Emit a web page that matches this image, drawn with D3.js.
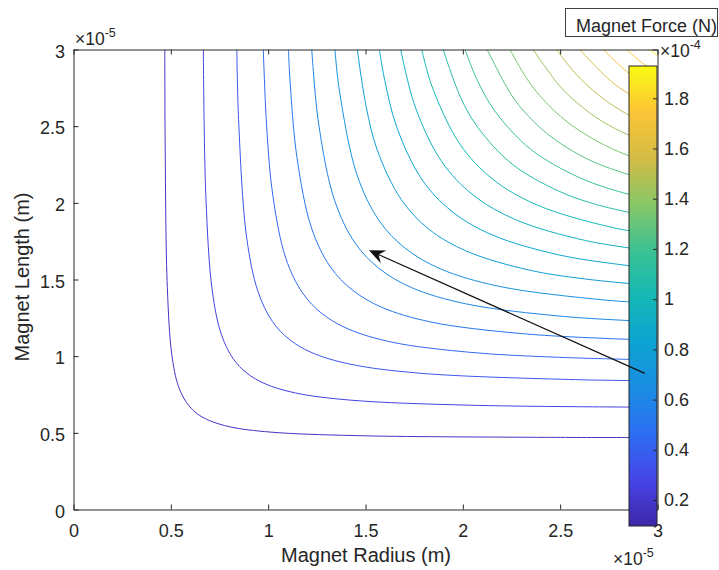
<!DOCTYPE html>
<html>
<head>
<meta charset="utf-8">
<script src="https://cdn.jsdelivr.net/npm/d3@7"></script>
<style>
  html, body { margin: 0; padding: 0; background: #fff; }
  svg { display: block; font-family: "Liberation Sans", Arial, Helvetica, sans-serif; }
</style>
</head>
<body>
<svg id="chart" width="719" height="570"></svg>
<script>
// axis ticks (values are in units of 1e-5 m)
const xTicks = [0, 0.5, 1, 1.5, 2, 2.5, 3];
const xTickLabels = ['0', '0.5', '1', '1.5', '2', '2.5', '3'];
const yTicks = [0, 0.5, 1, 1.5, 2, 2.5, 3];
const yTickLabels = ['0', '0.5', '1', '1.5', '2', '2.5', '3'];

// colorbar (values in units of 1e-4 N)
const forceRange = [0.0965, 1.9286];
const cbTicks = [0.2, 0.4, 0.6, 0.8, 1, 1.2, 1.4, 1.6, 1.8];
const cbTickLabels = ['0.2', '0.4', '0.6', '0.8', '1', '1.2', '1.4', '1.6', '1.8'];

const levels = [0.18, 0.26, 0.35, 0.43, 0.51, 0.60, 0.68, 0.76, 0.85, 0.93, 1.01,
                1.10, 1.18, 1.26, 1.35, 1.43, 1.51, 1.60, 1.68, 1.76, 1.85];

// contour lines, [radius, length] points
const contourLines = [
  [[0.469,3],[0.471,2.356],[0.482,1.446],[0.505,1.010],[0.538,0.808],[0.581,0.697],[0.630,0.630],[0.697,0.581],[0.808,0.538],[1.010,0.505],[1.446,0.482],[2.356,0.471],[3,0.469]],
  [[0.667,3],[0.680,2.041],[0.713,1.426],[0.760,1.140],[0.820,0.984],[0.890,0.890],[0.984,0.820],[1.140,0.760],[1.426,0.713],[2.041,0.680],[3,0.667]],
  [[0.839,3],[0.848,2.544],[0.889,1.778],[0.948,1.421],[1.022,1.226],[1.109,1.109],[1.226,1.022],[1.421,0.948],[1.778,0.889],[2.544,0.848],[3,0.839]],
  [[0.975,3],[0.993,2.482],[1.024,2.047],[1.091,1.637],[1.177,1.412],[1.277,1.277],[1.412,1.177],[1.637,1.091],[2.047,1.024],[2.482,0.993],[3,0.975]],
  [[1.104,3],[1.113,2.783],[1.148,2.295],[1.223,1.835],[1.319,1.583],[1.432,1.432],[1.583,1.319],[1.835,1.223],[2.295,1.148],[2.783,1.113],[3,1.104]],
  [[1.224,3],[1.259,2.518],[1.342,2.013],[1.447,1.737],[1.571,1.571],[1.737,1.447],[2.013,1.342],[2.518,1.259],[3,1.224]],
  [[1.343,3],[1.366,2.731],[1.456,2.184],[1.570,1.884],[1.704,1.704],[1.884,1.570],[2.184,1.456],[2.731,1.366],[3,1.343]],
  [[1.458,3],[1.503,2.630],[1.561,2.342],[1.684,2.021],[1.827,1.827],[2.021,1.684],[2.342,1.561],[2.630,1.503],[3,1.458]],
  [[1.571,3],[1.599,2.798],[1.661,2.492],[1.791,2.150],[1.944,1.944],[2.150,1.791],[2.492,1.661],[2.798,1.599],[3,1.571]],
  [[1.681,3],[1.754,2.631],[1.891,2.270],[2.052,2.052],[2.270,1.891],[2.631,1.754],[3,1.681]],
  [[1.789,3],[1.841,2.762],[1.985,2.383],[2.154,2.154],[2.383,1.985],[2.762,1.841],[3,1.789]],
  [[1.899,3],[1.989,2.686],[2.077,2.492],[2.253,2.253],[2.492,2.077],[2.686,1.989],[3,1.899]],
  [[2.011,3],[2.074,2.800],[2.165,2.598],[2.349,2.349],[2.598,2.165],[2.800,2.074],[3,2.011]],
  [[2.125,3],[2.251,2.701],[2.335,2.568],[2.442,2.442],[2.568,2.335],[2.701,2.251],[3,2.125]],
  [[2.242,3],[2.334,2.800],[2.421,2.663],[2.532,2.532],[2.663,2.421],[2.800,2.334],[3,2.242]],
  [[2.361,3],[2.503,2.754],[2.619,2.619],[2.754,2.503],[3,2.361]],
  [[2.481,3],[2.581,2.840],[2.700,2.700],[2.840,2.581],[3,2.481]],
  [[2.601,3],[2.777,2.777],[3,2.601]],
  [[2.721,3],[2.849,2.849],[3,2.721]],
  [[2.841,3],[2.917,2.917],[3,2.841]],
  [[2.960,3],[2.980,2.980],[3,2.960]]
];

// annotation arrow, data coords
const arrowFrom = [2.935, 0.888];
const arrowTo = [1.518, 1.690];

const ink = '#262626';
const svg = d3.select('#chart');

const plot = {left: 73.5, right: 657.5, top: 49.5, bottom: 509.5};
const x = d3.scaleLinear().domain([0, 3]).range([plot.left, plot.right]);
const y = d3.scaleLinear().domain([0, 3]).range([plot.bottom, plot.top]);

// parula-like colormap
const parulaStops = ['#3e26a8', '#4745e8', '#2c6ef2', '#1a8de2', '#0ca4d2', '#15b8b4',
                     '#3cc293', '#88c666', '#d4bc45', '#fcc436', '#f9fb15'];
const parula = d3.scaleLinear()
  .domain(parulaStops.map((c, i) => i / (parulaStops.length - 1)))
  .range(parulaStops)
  .interpolate(d3.interpolateRgb);
const color = v => parula((v - forceRange[0]) / (forceRange[1] - forceRange[0]));

const defs = svg.append('defs');
defs.append('clipPath').attr('id', 'plotClip')
  .append('rect')
  .attr('x', plot.left).attr('y', plot.top)
  .attr('width', plot.right - plot.left).attr('height', plot.bottom - plot.top);

// contours
const line = d3.line()
  .x(d => x(d[0]))
  .y(d => y(d[1]))
  .curve(d3.curveCatmullRom.alpha(0.5));

svg.append('g')
  .attr('clip-path', 'url(#plotClip)')
  .selectAll('path')
  .data(contourLines)
  .join('path')
  .attr('d', line)
  .attr('fill', 'none')
  .attr('stroke', (d, i) => color(levels[i]))
  .attr('stroke-width', 1);

// axes
function styleAxis(g) {
  g.select('.domain').attr('stroke', ink).attr('stroke-width', 1);
  g.selectAll('.tick line').attr('stroke', ink);
  g.selectAll('.tick text').attr('fill', ink).style('font-size', '18px');
}

svg.append('g')
  .attr('transform', `translate(0,${plot.bottom})`)
  .call(d3.axisBottom(x).tickValues(xTicks).tickFormat((d, i) => xTickLabels[i])
    .tickSizeInner(-5).tickSizeOuter(0).tickPadding(14.5))
  .call(styleAxis);

svg.append('g')
  .attr('transform', `translate(${plot.left},0)`)
  .call(d3.axisLeft(y).tickValues(yTicks).tickFormat((d, i) => yTickLabels[i])
    .tickSizeInner(-5).tickSizeOuter(0).tickPadding(8.5))
  .call(styleAxis)
  .call(g => g.selectAll('.tick text').attr('dy', '0.42em'));

svg.append('g')
  .attr('transform', `translate(0,${plot.top})`)
  .call(d3.axisTop(x).tickValues(xTicks).tickFormat('').tickSizeInner(-5).tickSizeOuter(0))
  .call(styleAxis);

svg.append('g')
  .attr('transform', `translate(${plot.right},0)`)
  .call(d3.axisRight(y).tickValues(yTicks).tickFormat('').tickSizeInner(-5).tickSizeOuter(0))
  .call(styleAxis);

// axis titles
svg.append('text')
  .attr('x', 366).attr('y', 561.5)
  .attr('text-anchor', 'middle')
  .attr('fill', ink).style('font-size', '20px')
  .text('Magnet Radius (m)');

svg.append('text')
  .attr('transform', 'translate(29,277) rotate(-90)')
  .attr('text-anchor', 'middle')
  .attr('fill', ink).style('font-size', '20px')
  .text('Magnet Length (m)');

// exponent labels
function expLabel(px, py, exp) {
  const t = svg.append('text')
    .attr('x', px).attr('y', py)
    .attr('fill', ink).style('font-size', '17.5px');
  t.append('tspan').text('\u00d710');
  t.append('tspan').attr('dy', -8).style('font-size', '12.5px').text(exp);
}
expLabel(75, 45, '-5');
expLabel(613, 565, '-5');

// colorbar
const cb = {left: 629, right: 657, top: 66, bottom: 526};
const cbScale = d3.scaleLinear().domain(forceRange).range([cb.bottom, cb.top]);

const grad = defs.append('linearGradient').attr('id', 'parulaGrad')
  .attr('x1', 0).attr('y1', 1).attr('x2', 0).attr('y2', 0);
grad.selectAll('stop')
  .data(parulaStops)
  .join('stop')
  .attr('offset', (d, i) => i / (parulaStops.length - 1))
  .attr('stop-color', d => d);

svg.append('rect')
  .attr('x', cb.left).attr('y', cb.top)
  .attr('width', cb.right - cb.left).attr('height', cb.bottom - cb.top)
  .attr('fill', 'url(#parulaGrad)')
  .attr('stroke', ink).attr('stroke-width', 1);

svg.append('g')
  .attr('transform', `translate(${cb.right},0)`)
  .call(d3.axisRight(cbScale).tickValues(cbTicks).tickFormat((d, i) => cbTickLabels[i])
    .tickSizeInner(-4).tickSizeOuter(0).tickPadding(7))
  .call(styleAxis)
  .call(g => g.select('.domain').remove());

expLabel(660, 56.5, '-4');

// colorbar title box
svg.append('rect')
  .attr('x', 565.5).attr('y', 8.5)
  .attr('width', 152).attr('height', 28)
  .attr('fill', '#fff')
  .attr('stroke', '#404040').attr('stroke-width', 1);
svg.append('text')
  .attr('x', 576).attr('y', 31.5)
  .attr('fill', ink).style('font-size', '18px')
  .text('Magnet Force (N)');

// arrow annotation
const ax0 = x(arrowFrom[0]), ay0 = y(arrowFrom[1]);
const ax1 = x(arrowTo[0]), ay1 = y(arrowTo[1]);
const len = Math.hypot(ax0 - ax1, ay0 - ay1);
const ux = (ax0 - ax1) / len, uy = (ay0 - ay1) / len;
const nx = -uy, ny = ux;
const headLen = 16, headW = 7;

svg.append('line')
  .attr('x1', ax0).attr('y1', ay0)
  .attr('x2', ax1 + ux * headLen * 0.6).attr('y2', ay1 + uy * headLen * 0.6)
  .attr('stroke', '#111').attr('stroke-width', 1.2);

svg.append('path')
  .attr('d', `M${ax1},${ay1}`
    + `L${ax1 + ux * headLen + nx * headW},${ay1 + uy * headLen + ny * headW}`
    + `L${ax1 + ux * headLen * 0.65},${ay1 + uy * headLen * 0.65}`
    + `L${ax1 + ux * headLen - nx * headW},${ay1 + uy * headLen - ny * headW}Z`)
  .attr('fill', '#111');
</script>
</body>
</html>
